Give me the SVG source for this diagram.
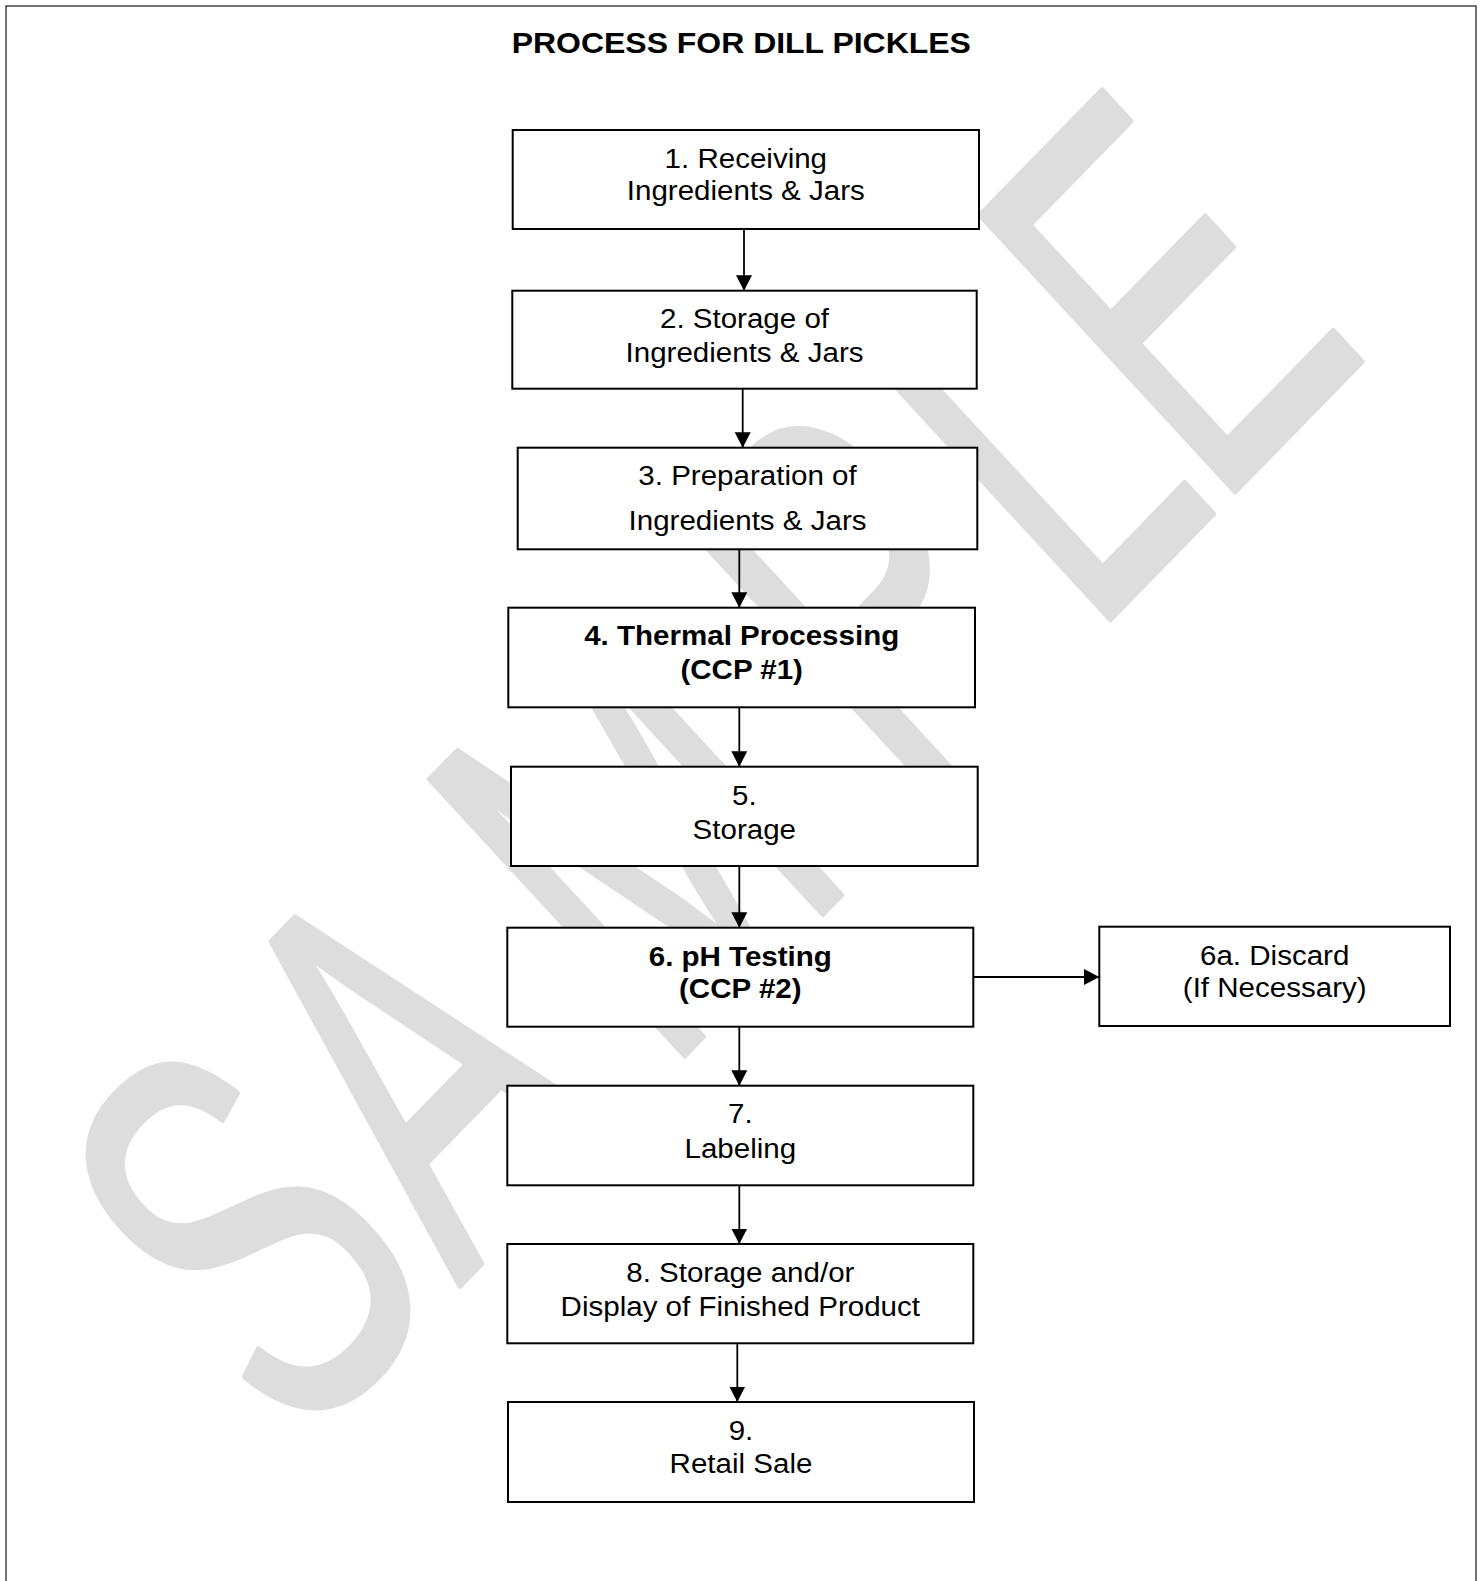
<svg xmlns="http://www.w3.org/2000/svg" width="1484" height="1581" viewBox="0 0 1484 1581">
<style>
.box{fill:#ffffff;stroke:#000000;stroke-width:2}
.t{font-family:"Liberation Sans",Arial,sans-serif;font-size:28px;fill:#000000;text-anchor:middle}
.b{font-weight:bold}
.title{font-family:"Liberation Sans",Arial,sans-serif;font-size:30.3px;font-weight:bold;fill:#000000;text-anchor:middle}
.wm{font-family:"Liberation Sans",Arial,sans-serif;font-size:545px;fill:#dddddd;stroke:#dddddd;stroke-width:5;stroke-linejoin:round}
.conn{stroke:#000000;stroke-width:1.8;fill:none;marker-end:url(#ah)}
.border{fill:none;stroke:#444444;stroke-width:1.5}
</style>
<defs>
<marker id="ah" markerUnits="userSpaceOnUse" markerWidth="17" markerHeight="17" refX="15.5" refY="8" orient="auto">
<path d="M0,0 L15.5,8 L0,16 z" fill="#000000"/>
</marker>
</defs>
<rect x="0" y="0" width="1484" height="1581" fill="#ffffff"/>
<path class="border" d="M6,1581 V6 H1476 V1581"/>
<g id="watermark">
<text class="wm" vector-effect="non-scaling-stroke" transform="rotate(-45.7) translate(0 1227) skewX(-3) scale(0.62 1)" x="-1347.6 -968.5 -493.2 89.4 490 778" y="0">SAMPLE</text>
</g>
<text class="title" transform="translate(741.3 0) scale(1.055 1)" x="0" y="53.3">PROCESS FOR DILL PICKLES</text>
<g id="connectors">
<line class="conn" x1="744" y1="230" x2="744" y2="290.7"/>
<line class="conn" x1="742.7" y1="389" x2="742.7" y2="447.7"/>
<line class="conn" x1="739.3" y1="549.5" x2="739.3" y2="607.7"/>
<line class="conn" x1="739.3" y1="707.5" x2="739.3" y2="766.7"/>
<line class="conn" x1="739.3" y1="866" x2="739.3" y2="927.7"/>
<line class="conn" x1="973.3" y1="977" x2="1099.3" y2="977"/>
<line class="conn" x1="739.3" y1="1027" x2="739.3" y2="1085.7"/>
<line class="conn" x1="739.3" y1="1185.5" x2="739.3" y2="1244"/>
<line class="conn" x1="737.3" y1="1343.5" x2="737.3" y2="1402"/>
</g>
<g id="node1">
<rect class="box" x="512.7" y="130" width="466.3" height="99"/>
<text class="t" transform="translate(745.8 0) scale(1.055 1)" x="0" y="168.3">1. Receiving</text>
<text class="t" transform="translate(745.8 0) scale(1.055 1)" x="0" y="200">Ingredients &amp; Jars</text>
</g>
<g id="node2">
<rect class="box" x="512.3" y="290.7" width="464.4" height="98"/>
<text class="t" transform="translate(744.5 0) scale(1.055 1)" x="0" y="328.3">2. Storage of</text>
<text class="t" transform="translate(744.5 0) scale(1.055 1)" x="0" y="361.7">Ingredients &amp; Jars</text>
</g>
<g id="node3">
<rect class="box" x="517.7" y="447.7" width="459.6" height="101.6"/>
<text class="t" transform="translate(747.5 0) scale(1.055 1)" x="0" y="485">3. Preparation of</text>
<text class="t" transform="translate(747.5 0) scale(1.055 1)" x="0" y="530">Ingredients &amp; Jars</text>
</g>
<g id="node4">
<rect class="box" x="508.3" y="607.7" width="466.7" height="99.6"/>
<text class="t b" transform="translate(741.7 0) scale(1.055 1)" x="0" y="645">4. Thermal Processing</text>
<text class="t b" transform="translate(741.7 0) scale(1.055 1)" x="0" y="679">(CCP #1)</text>
</g>
<g id="node5">
<rect class="box" x="511" y="766.7" width="466.7" height="99.3"/>
<text class="t" transform="translate(744.3 0) scale(1.055 1)" x="0" y="805">5.</text>
<text class="t" transform="translate(744.3 0) scale(1.055 1)" x="0" y="839">Storage</text>
</g>
<g id="node6">
<rect class="box" x="507.3" y="927.7" width="466" height="99"/>
<text class="t b" transform="translate(740.3 0) scale(1.055 1)" x="0" y="965.7">6. pH Testing</text>
<text class="t b" transform="translate(740.3 0) scale(1.055 1)" x="0" y="998">(CCP #2)</text>
</g>
<g id="node6a">
<rect class="box" x="1099.3" y="926.7" width="350.7" height="99.3"/>
<text class="t" transform="translate(1274.7 0) scale(1.055 1)" x="0" y="965">6a. Discard</text>
<text class="t" transform="translate(1274.7 0) scale(1.055 1)" x="0" y="997">(If Necessary)</text>
</g>
<g id="node7">
<rect class="box" x="507.3" y="1085.7" width="466" height="99.6"/>
<text class="t" transform="translate(740.3 0) scale(1.055 1)" x="0" y="1123.3">7.</text>
<text class="t" transform="translate(740.3 0) scale(1.055 1)" x="0" y="1158.3">Labeling</text>
</g>
<g id="node8">
<rect class="box" x="507.3" y="1244" width="466" height="99.3"/>
<text class="t" transform="translate(740.3 0) scale(1.055 1)" x="0" y="1282.3">8. Storage and/or</text>
<text class="t" transform="translate(740.3 0) scale(1.055 1)" x="0" y="1315.7">Display of Finished Product</text>
</g>
<g id="node9">
<rect class="box" x="508" y="1402" width="466" height="100"/>
<text class="t" transform="translate(741 0) scale(1.055 1)" x="0" y="1440">9.</text>
<text class="t" transform="translate(741 0) scale(1.055 1)" x="0" y="1473.5">Retail Sale</text>
</g>
</svg>
